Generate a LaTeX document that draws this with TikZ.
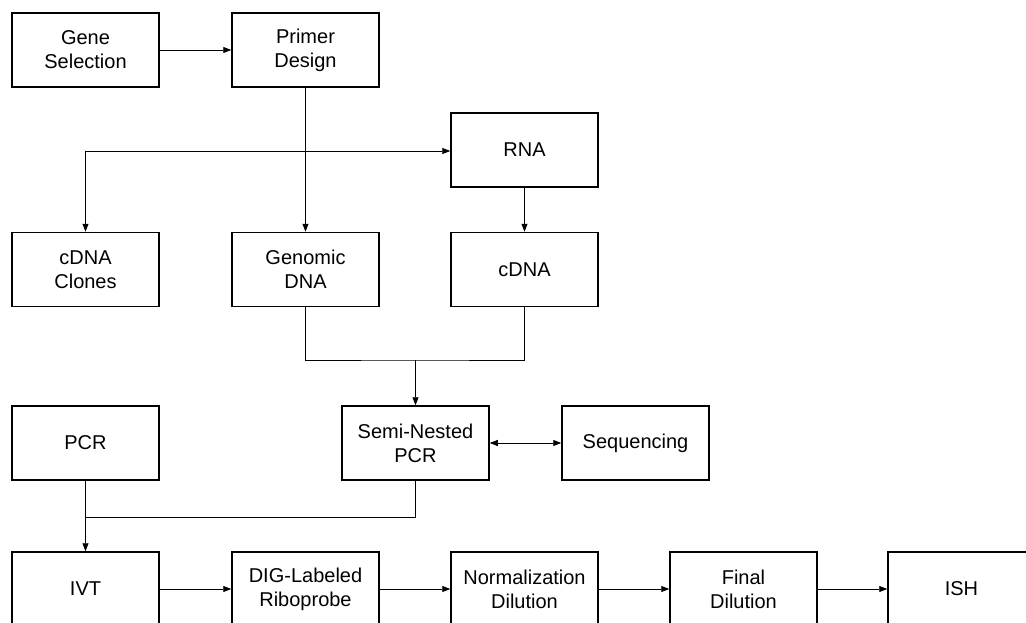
\documentclass[tikz,border=0pt]{standalone}
\usepackage{fontspec}
\setmainfont{Liberation Sans}
\usetikzlibrary{arrows.meta}
\begin{document}
\begin{tikzpicture}[x=1pt,y=-1pt,
  box/.style={draw, line width=1.5pt, minimum width=147pt, minimum height=74pt, align=center, font=\fontsize{20}{24}\selectfont, inner sep=2pt},
  conn/.style={line width=0.8pt, -{Triangle[length=8pt,width=6pt]}},
  plain/.style={line width=0.8pt}]
\useasboundingbox (0,0) rectangle (1026,622);
\clip (0,0) rectangle (1026,622);
\node[box] (gs) at (85.5,50) {Gene\\Selection};
\node[box] (pd) at (305.5,50) {Primer\\Design};
\node[box] (rna) at (524.5,150) {RNA};
\node[box] (cc) at (85.5,269.5) {cDNA\\Clones};
\node[box] (gd) at (305.5,269.5) {Genomic\\DNA};
\node[box] (cdna) at (524.5,269.5) {cDNA};
\node[box] (pcr) at (85.5,443) {PCR};
\node[box] (snp) at (415.5,443) {Semi-Nested\\PCR};
\node[box] (seq) at (635.5,443) {Sequencing};
\node[box] (ivt) at (85.5,589) {IVT};
\node[box] (dig) at (305.5,589) {DIG-Labeled\\Riboprobe};
\node[box] (nd) at (524.5,589) {Normalization\\Dilution};
\node[box] (fd) at (743.5,589) {Final\\Dilution};
\node[box] (ish) at (961.5,589) {ISH};
\coordinate (br) at (85.5,151);
\coordinate (m1) at (415.5,360);
\coordinate (m2) at (415.5,517);
\draw[conn] (gs) -- (pd);
\draw[conn] (pd) -- (gd);
\draw[conn] (br) -- (rna.west |- br);
\draw[conn] (br) -- (cc);
\draw[conn] (rna) -- (cdna);
\draw[plain] (gd.south) |- (m1) -| (cdna.south);
\draw[conn] (m1) -- (snp);
\draw[conn] (pcr) -- (ivt);
\draw[plain] (pcr.south |- m2) -- (m2) -- (snp.south);
\draw[line width=0.8pt, {Triangle[length=8pt,width=6pt]}-{Triangle[length=8pt,width=6pt]}] (snp) -- (seq);
\draw[conn] (ivt) -- (dig);
\draw[conn] (dig) -- (nd);
\draw[conn] (nd) -- (fd);
\draw[conn] (fd) -- (ish);
\end{tikzpicture}
\end{document}
